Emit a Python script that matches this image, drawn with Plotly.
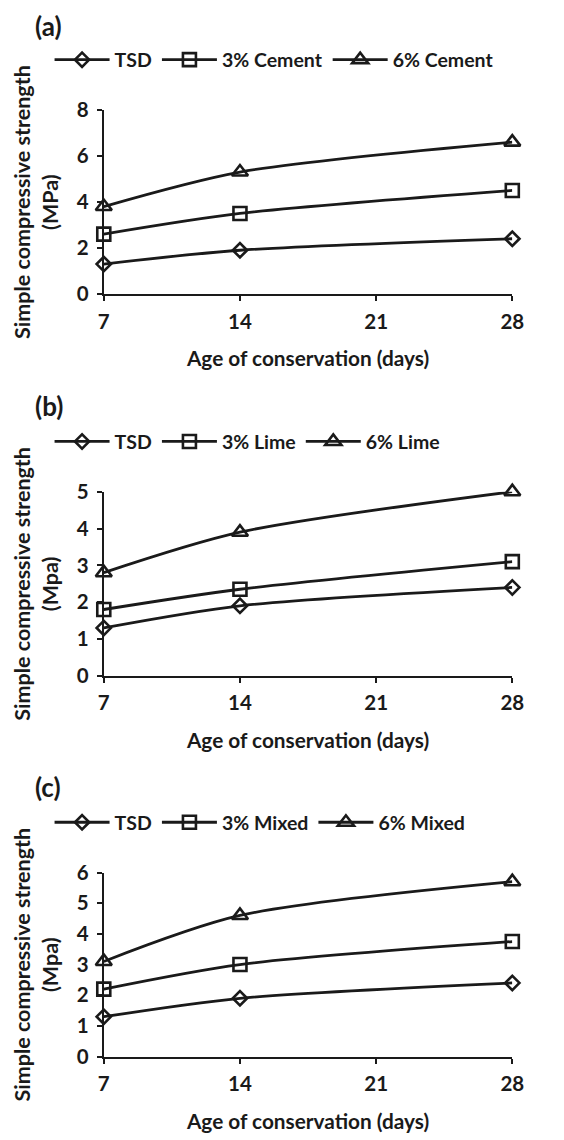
import plotly.graph_objects as go

days = [7, 14, 28]

tsd = [1.3, 1.9, 2.4]
cement_3 = [2.6, 3.5, 4.5]
cement_6 = [3.8, 5.3, 6.6]
lime_3 = [1.8, 2.35, 3.1]
lime_6 = [2.8, 3.9, 5.0]
mixed_3 = [2.2, 3.0, 3.75]
mixed_6 = [3.1, 4.6, 5.7]

panel_labels = ["(a)", "(b)", "(c)"]
series_names = [
    ["TSD", "3% Cement", "6% Cement"],
    ["TSD", "3% Lime", "6% Lime"],
    ["TSD", "3% Mixed", "6% Mixed"],
]
series_values = [
    [tsd, cement_3, cement_6],
    [tsd, lime_3, lime_6],
    [tsd, mixed_3, mixed_6],
]
y_units = ["(MPa)", "(Mpa)", "(Mpa)"]
y_max = [8, 5, 6]
y_dtick = [2, 1, 1]
x_ticks = [7, 14, 21, 28]
x_title = "Age of conservation (days)"
y_title = "Simple compressive strength"

W, H = 564, 1140
FONT = "Lato"
BLACK = "#1a1a1a"

symbols = ["diamond-open", "square-open", "triangle-up-open"]
sizes = [11, 13, 14]

# pixel layout (top, bottom of plot area) per panel
plot_px = [(99, 287), (489, 677), (878, 1066)]
legend_px = [48, 438, 827]
label_px = [13, 401, 791]
x0_px, x1_px = 101, 523

fig = go.Figure()
legend_keys = ["legend", "legend2", "legend3"]

for p in range(3):
    xa = "x" if p == 0 else f"x{p+1}"
    ya = "y" if p == 0 else f"y{p+1}"
    for s in range(3):
        fig.add_trace(go.Scatter(
            x=days, y=series_values[p][s], name=series_names[p][s],
            mode="lines+markers",
            line=dict(color=BLACK, width=2.8, shape="spline", smoothing=0.8),
            marker=dict(symbol=symbols[s], size=sizes[s], color=BLACK,
                        line=dict(width=2.6, color=BLACK)),
            cliponaxis=False,
            xaxis=xa, yaxis=ya, legend=legend_keys[p],
        ))

TF = 20.5
layout = dict(
    width=W, height=H,
    margin=dict(l=0, r=0, t=0, b=0),
    paper_bgcolor="white", plot_bgcolor="white",
    font=dict(family=FONT, size=TF, color=BLACK),
    showlegend=True,
)

annotations = []
for p in range(3):
    top, bot = plot_px[p]
    dom_y = [1 - bot / H, 1 - top / H]
    dom_x = [x0_px / W, x1_px / W]
    xk = "xaxis" if p == 0 else f"xaxis{p+1}"
    yk = "yaxis" if p == 0 else f"yaxis{p+1}"
    ya = "y" if p == 0 else f"y{p+1}"
    xa = "x" if p == 0 else f"x{p+1}"
    layout[xk] = dict(
        domain=dom_x, anchor=ya, range=[7, 28],
        tickmode="array", tickvals=x_ticks, ticktext=[str(t) for t in x_ticks],
        ticks="outside", ticklen=5, tickwidth=1.5, tickcolor=BLACK,
        showline=True, linecolor=BLACK, linewidth=2,
        showgrid=False, zeroline=False, ticklabelstandoff=3,
        tickfont=dict(family=FONT, size=TF, color=BLACK, weight="bold"),
        title=dict(text=x_title, standoff=20,
                   font=dict(family=FONT, size=20.8, color=BLACK, weight="bold")),
        fixedrange=True,
    )
    layout[yk] = dict(
        domain=dom_y, anchor=xa, range=[0, y_max[p]], dtick=y_dtick[p],
        ticks="outside", ticklen=5, tickwidth=1.5, tickcolor=BLACK,
        showline=True, linecolor=BLACK, linewidth=2,
        showgrid=False, zeroline=False, ticklabelstandoff=4,
        tickfont=dict(family=FONT, size=TF, color=BLACK, weight="bold"),
        fixedrange=True,
    )
    layout[legend_keys[p]] = dict(
        orientation="h", x=45 / W, xanchor="left",
        y=1 - legend_px[p] / H, yanchor="middle",
        font=dict(family=FONT, size=19.5, color=BLACK, weight="bold"),
        bgcolor="rgba(0,0,0,0)", itemwidth=55,
    )
    annotations.append(dict(
        text=f"<b>{panel_labels[p]}</b>", xref="paper", yref="paper",
        x=28 / W, y=1 - label_px[p] / H, xanchor="left", yanchor="middle",
        showarrow=False, font=dict(family=FONT, size=26, color=BLACK),
    ))
    annotations.append(dict(
        text=f"<b>{y_title}</b><br><b>{y_units[p]}</b>", xref="paper", yref="paper",
        x=31 / W, y=(dom_y[0] + dom_y[1]) / 2, xanchor="center", yanchor="middle",
        textangle=-90, showarrow=False, align="center",
        font=dict(family=FONT, size=21.5, color=BLACK),
    ))

layout["annotations"] = annotations
fig.update_layout(**layout)
fig.write_html(
    "out.html",
    config={"displayModeBar": False},
    post_script="document.body.style.margin='0';document.documentElement.style.margin='0';",
)
